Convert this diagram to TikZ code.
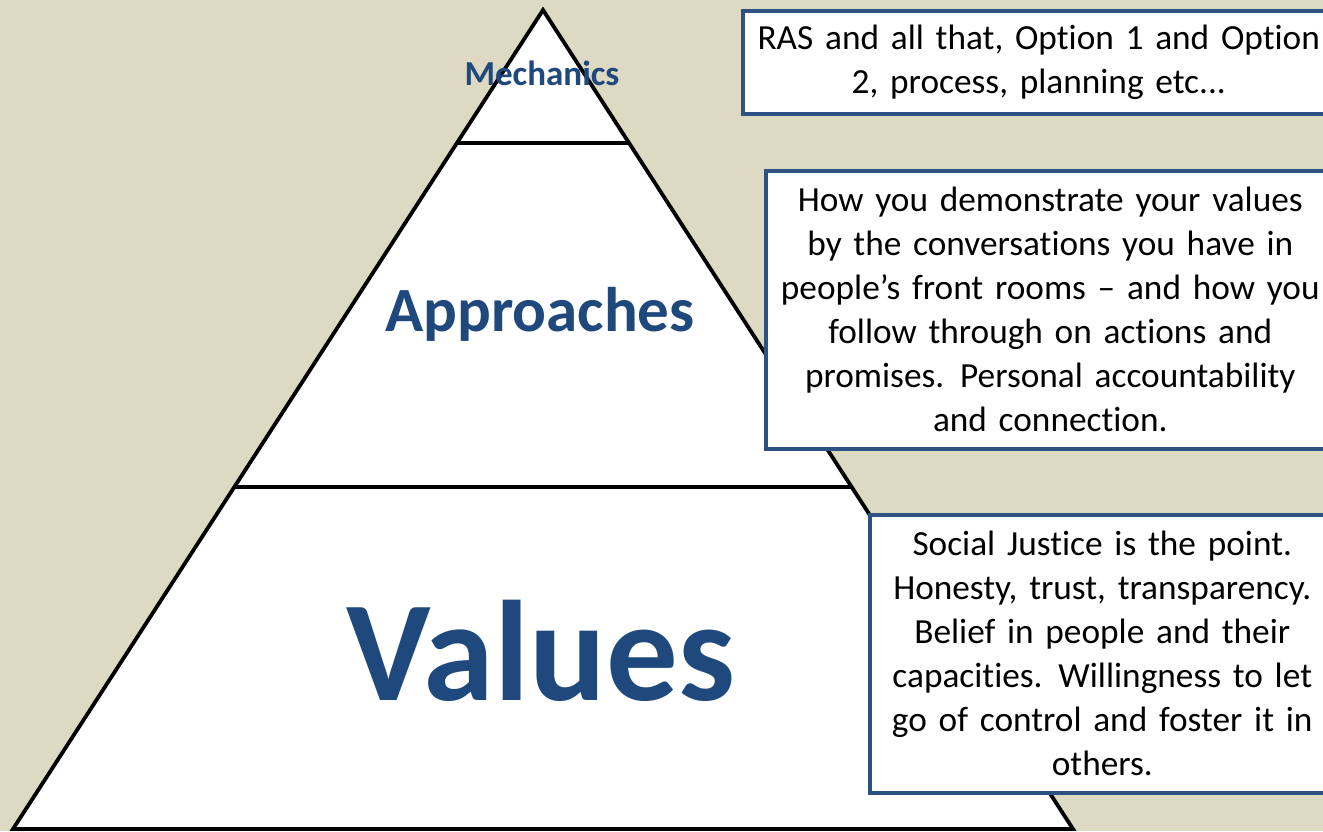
\documentclass[tikz,border=0pt]{standalone}
\usepackage{fontspec}
\setmainfont{Carlito}[Ligatures=NoCommon]
\definecolor{bgc}{RGB}{221,217,195}
\definecolor{lblc}{RGB}{31,73,125}
\definecolor{boxc}{RGB}{44,82,132}
\newcommand{\boxfont}{\fontsize{35.3}{44}\selectfont\spaceskip=0.2em\relax}
\begin{document}
\begin{tikzpicture}[x=1pt,y=-1pt,
  tri/.style={line width=3.8pt,line join=miter},
  level/.style={text=lblc,font=\bfseries,anchor=base,inner sep=0pt},
  infobox/.style={draw=boxc,line width=3.6pt,fill=white,anchor=north west,
    inner sep=0pt,align=center,font=\boxfont}]
\useasboundingbox (0,0) rectangle (1323,831);
\clip (0,0) rectangle (1323,831);
\fill[bgc] (0,0) rectangle (1323,831);
% pyramid
\coordinate (apex) at (543,10);
\coordinate (bl) at (13,829);
\coordinate (br) at (1073,829);
\coordinate (m1l) at (457,143);
\coordinate (m1r) at (629,143);
\coordinate (m2l) at (234,487);
\coordinate (m2r) at (852,487);
\filldraw[tri,fill=white] (apex) -- (br) -- (bl) -- cycle;
\draw[tri] (m1l) -- (m1r);
\draw[tri] (m2l) -- (m2r);
% labels
\node[level,font=\bfseries\fontsize{35}{40}\selectfont] (mech) at (542,85) {Mechanics};
\node[level,font=\bfseries\fontsize{63}{70}\selectfont] (appr) at (540,331) {Approaches};
\node[level,font=\bfseries\fontsize{143}{150}\selectfont] (vals) at (541,700) {Values};
% boxes
\node[infobox,text width=592pt,minimum height=103pt] (b1) at (741,9)
  {RAS and all that, Option 1 and Option\\2, process, planning etc...};
\node[infobox,text width=569pt,minimum height=278pt] (b2) at (764,169)
  {How you demonstrate your values\\by the conversations you have in\\people’s front rooms – and how you\\follow through on actions and\\promises.\hspace{0.45em}Personal accountability\\and connection.};
\node[infobox,text width=465pt,minimum height=278pt] (b3) at (868,513)
  {Social Justice is the point.\\Honesty, trust, transparency.\\Belief in people and their\\capacities.\hspace{0.45em}Willingness to let\\go of control and foster it in\\others.};
\end{tikzpicture}
\end{document}
